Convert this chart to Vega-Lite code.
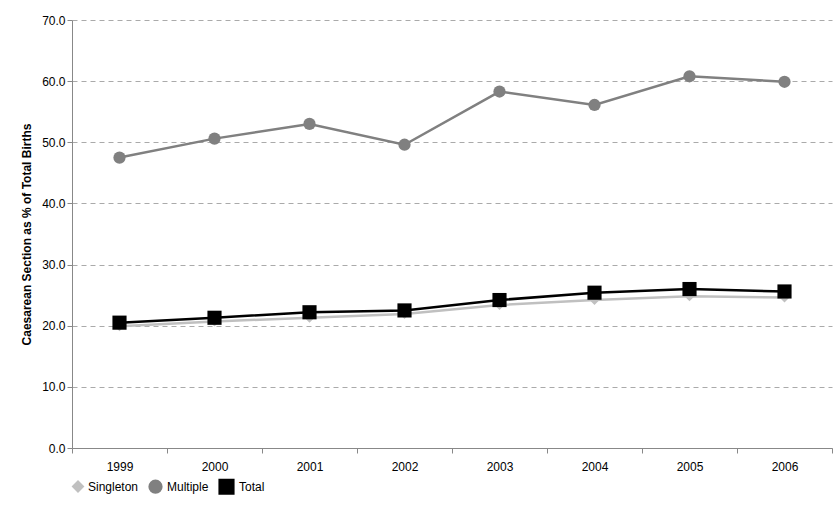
{
  "$schema": "https://vega.github.io/schema/vega-lite/v6.json",
  "width": 760,
  "height": 428,
  "padding": {"left": 20, "top": 14, "right": 2, "bottom": 5},
  "background": "white",
  "config": {
    "font": "Liberation Sans",
    "view": {"stroke": null},
    "axis": {"labelFontSize": 12, "labelColor": "#000", "domainColor": "#888", "tickColor": "#888"}
  },
  "data": {
    "values": [
      {"year": "1999", "series": "Singleton", "pct": 19.9},
      {"year": "2000", "series": "Singleton", "pct": 20.7},
      {"year": "2001", "series": "Singleton", "pct": 21.3},
      {"year": "2002", "series": "Singleton", "pct": 21.9},
      {"year": "2003", "series": "Singleton", "pct": 23.4},
      {"year": "2004", "series": "Singleton", "pct": 24.2},
      {"year": "2005", "series": "Singleton", "pct": 24.8},
      {"year": "2006", "series": "Singleton", "pct": 24.6},
      {"year": "1999", "series": "Multiple", "pct": 47.5},
      {"year": "2000", "series": "Multiple", "pct": 50.6},
      {"year": "2001", "series": "Multiple", "pct": 53.0},
      {"year": "2002", "series": "Multiple", "pct": 49.6},
      {"year": "2003", "series": "Multiple", "pct": 58.3},
      {"year": "2004", "series": "Multiple", "pct": 56.1},
      {"year": "2005", "series": "Multiple", "pct": 60.8},
      {"year": "2006", "series": "Multiple", "pct": 59.9},
      {"year": "1999", "series": "Total", "pct": 20.5},
      {"year": "2000", "series": "Total", "pct": 21.3},
      {"year": "2001", "series": "Total", "pct": 22.2},
      {"year": "2002", "series": "Total", "pct": 22.5},
      {"year": "2003", "series": "Total", "pct": 24.2},
      {"year": "2004", "series": "Total", "pct": 25.4},
      {"year": "2005", "series": "Total", "pct": 26.0},
      {"year": "2006", "series": "Total", "pct": 25.6}
    ]
  },
  "encoding": {
    "x": {
      "field": "year", "type": "ordinal",
      "scale": {"type": "band", "paddingInner": 0, "paddingOuter": 0},
      "axis": {"title": null, "labelAngle": 0, "tickBand": "extent", "labelPadding": 8, "tickSize": 5}
    },
    "y": {
      "field": "pct", "type": "quantitative",
      "scale": {"domain": [0, 70]},
      "axis": {"title": "Caesarean Section as % of Total Births", "titleFontSize": 12, "titleFontWeight": "bold", "format": ".1f", "tickCount": 7, "grid": true, "gridDash": [5, 4], "gridColor": "#aaa", "titlePadding": 8}
    },
    "color": {
      "field": "series", "type": "nominal",
      "sort": ["Singleton", "Multiple", "Total"],
      "scale": {"domain": ["Singleton", "Multiple", "Total"], "range": ["#c0c0c0", "#808080", "#000000"]},
      "legend": {"title": null, "orient": "bottom", "direction": "horizontal", "labelFontSize": 12, "offset": 6, "symbolStrokeWidth": 2, "columnPadding": 6}
    }
  },
  "layer": [
    {"mark": {"type": "line", "strokeWidth": 2.5}},
    {
      "mark": {"type": "point", "filled": true, "opacity": 1},
      "encoding": {
        "shape": {"field": "series", "type": "nominal", "scale": {"domain": ["Singleton", "Multiple", "Total"], "range": ["diamond", "circle", "square"]}},
        "size": {"field": "series", "type": "nominal", "scale": {"domain": ["Singleton", "Multiple", "Total"], "range": [100, 200, 100]}, "legend": null}
      }
    }
  ]
}
